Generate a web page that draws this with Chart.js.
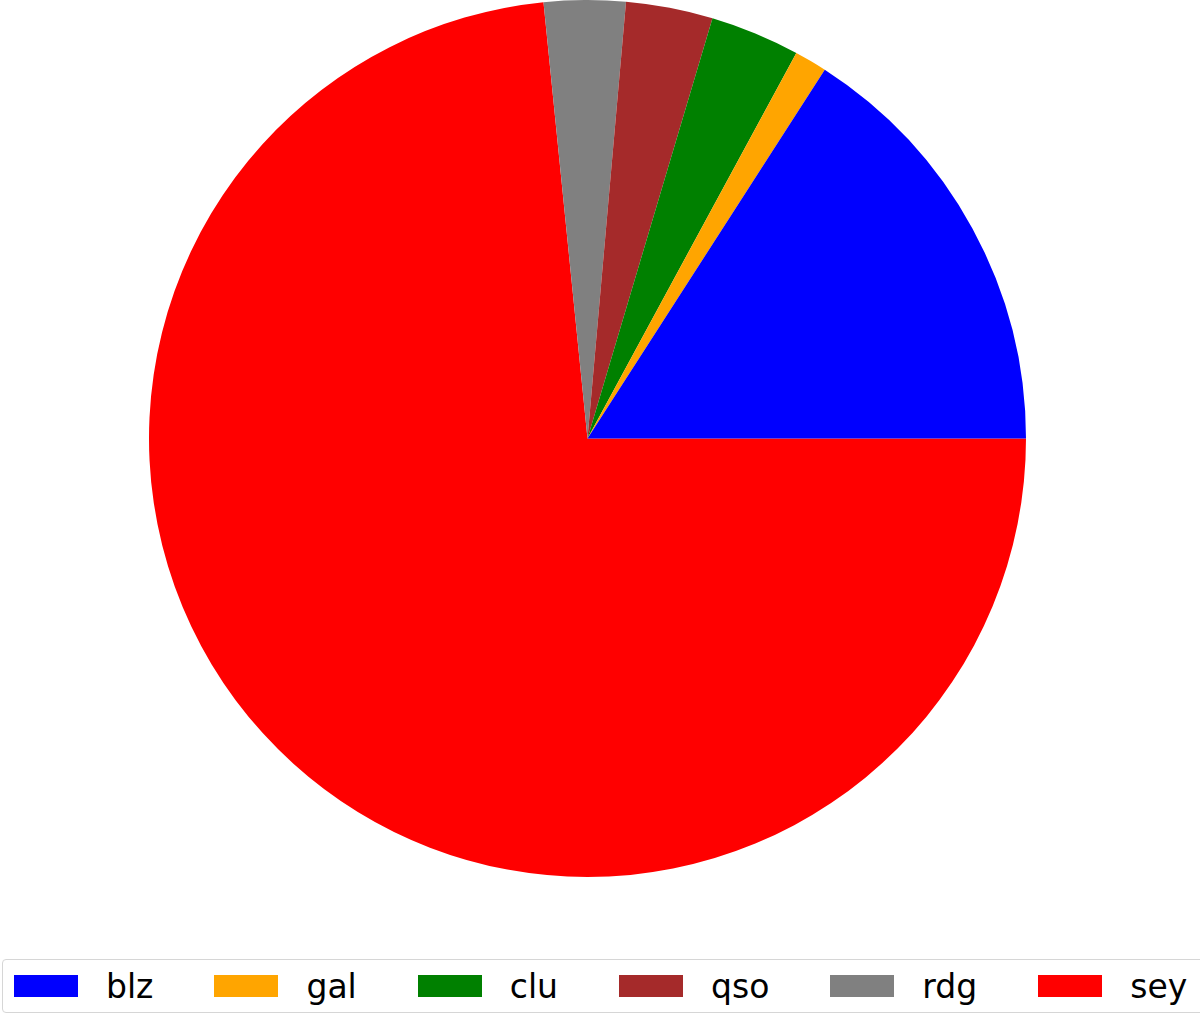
<!DOCTYPE html>
<html>
<head>
<meta charset="utf-8">
<script src="https://cdn.jsdelivr.net/npm/chart.js@4"></script>
<style>
  html, body { margin: 0; padding: 0; background: #fff; }
  body { width: 1200px; height: 1017px; position: relative; overflow: hidden; }
  #pieChart { position: absolute; left: 0; top: 0; }
  #legend {
    position: absolute; left: 2px; top: 959px; width: 1193px; height: 52px;
    border: 1px solid #d6d6d6; border-radius: 4px;
    display: flex; align-items: center; padding-left: 11px; box-sizing: content-box;
    font-family: "DejaVu Sans", sans-serif; font-size: 33px; color: #000;
  }
  .item { display: flex; align-items: center; margin-right: 61px; }
  .patch { width: 64px; height: 22px; margin-right: 28px; }
</style>
</head>
<body>
<canvas id="pieChart" width="1175" height="877"></canvas>
<div id="legend"></div>
<script>
// share of each class (percent)
var categories = ['blz', 'gal', 'clu', 'qso', 'rdg', 'sey'];
var values = [15.9, 1.2, 3.3, 3.2, 3.0, 73.4];
var colors = ['#0000ff', '#ffa500', '#008000', '#a52a2a', '#808080', '#ff0000'];

// matplotlib draws counterclockwise from 3 o'clock, chart.js clockwise,
// so feed the slices in reverse and start at 90 deg
var ctx = document.getElementById('pieChart').getContext('2d');
var pieChart = new Chart(ctx, {
    type: 'pie',
    data: {
        labels: categories.slice().reverse(),
        datasets: [{
            data: values.slice().reverse(),
            backgroundColor: colors.slice().reverse(),
            borderWidth: 0
        }]
    },
    options: {
        responsive: false,
        animation: false,
        rotation: 90,
        layout: { padding: 0 },
        events: [],
        plugins: {
            legend: { display: false },
            tooltip: { enabled: false }
        }
    }
});

var legendEl = document.getElementById('legend');
categories.forEach(function(cat, i) {
    var item = document.createElement('div');
    item.className = 'item';
    var patch = document.createElement('div');
    patch.className = 'patch';
    patch.style.background = colors[i];
    var label = document.createElement('span');
    label.textContent = cat;
    item.appendChild(patch);
    item.appendChild(label);
    legendEl.appendChild(item);
});
</script>
</body>
</html>
